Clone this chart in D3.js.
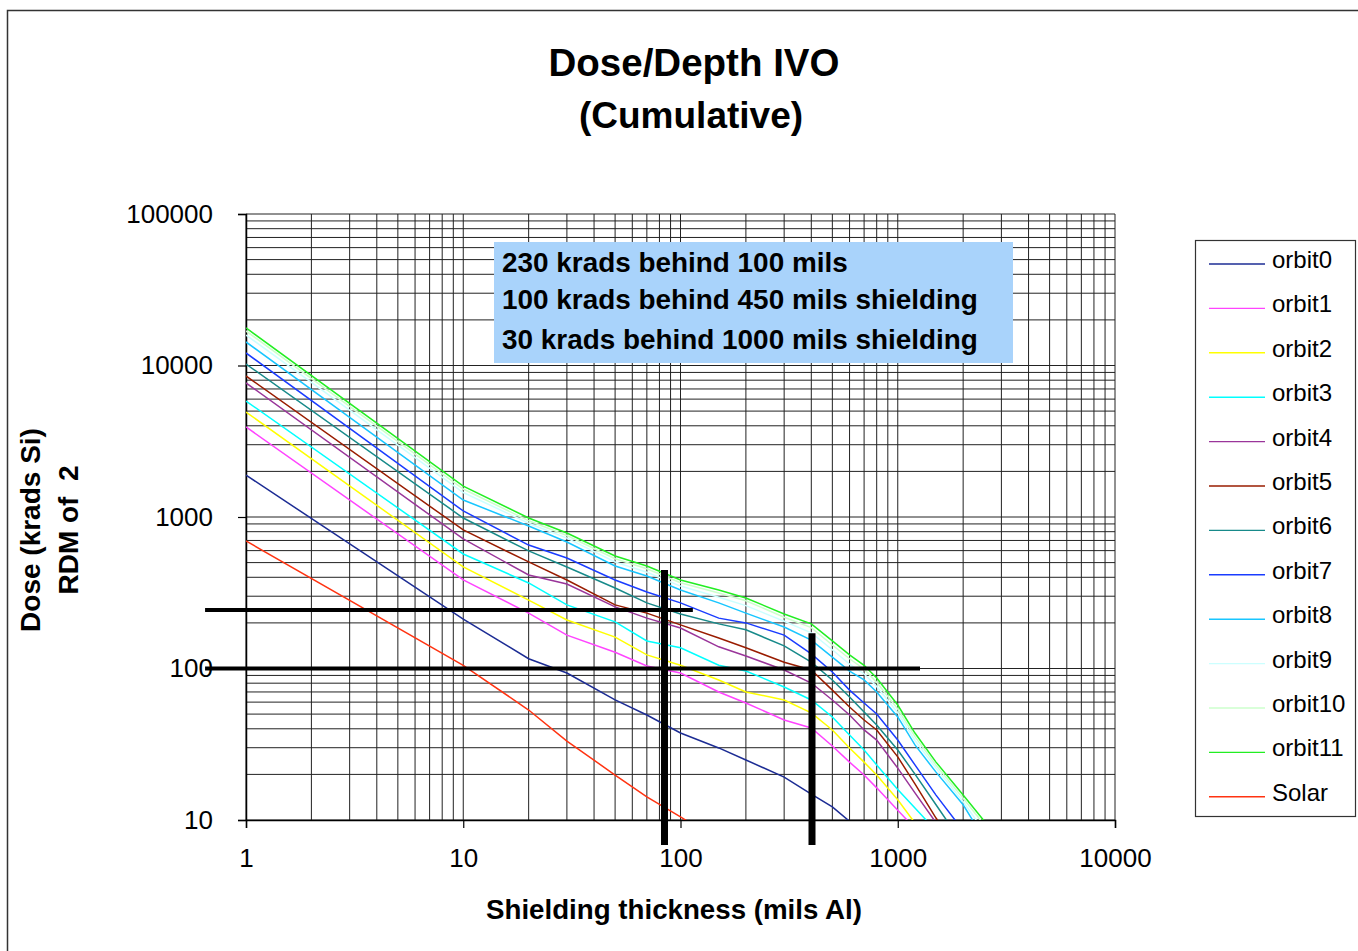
<!DOCTYPE html>
<html>
<head>
<meta charset="utf-8">
<script src="https://cdn.jsdelivr.net/npm/d3@7"></script>
<style>
  body { margin: 0; background: #fff; }
  svg { font-family: "Liberation Sans", Arial, sans-serif; }
</style>
</head>
<body>
<div id="chart"></div>
<script>
var svgWidth = 1358;
var svgHeight = 951;

// plot area in page pixels
var plot = { left: 246, right: 1115, top: 214, bottom: 820 };

// shielding thickness samples (mils Al)
var thickness = [1, 10, 20, 30, 50, 70, 100, 150, 200, 300, 400, 500, 600, 700, 800, 1000, 1200, 1500, 2000, 2500];

// dose (krads Si) per series at the thickness samples
var orbit0  = [1890, 212, 116, 93.4, 62, 49.3, 37.5, 29.9, 24.9, 19.2, 14.8, 12.2, 9.8, 8.0];
var orbit1  = [3930, 384, 232, 166, 128, 104, 93.4, 70, 59.2, 45.7, 40.5, 30.8, 24.1, 19.8, 16.3, 11.6, 8.8];
var orbit2  = [4930, 468, 283, 209, 161, 123, 105, 84, 70, 62, 50.9, 39.3, 29.9, 24.1, 19.8, 13.6, 9.55, 6.2];
var orbit3  = [5830, 570, 367, 263, 203, 152, 137, 105, 96.3, 75.5, 62, 47.9, 36.4, 29, 23.1, 15.9, 12.0, 8.5];
var orbit4  = [7670, 716, 414, 361, 255, 215, 185, 139, 121, 97.7, 80.2, 62, 49.3, 39.3, 33.7, 22, 15.1, 9.6, 5.5];
var orbit5  = [8530, 821, 505, 384, 263, 232, 194, 159, 137, 110, 97.7, 72, 55.7, 45.7, 39.3, 26.1, 17.3, 10.3, 5.8];
var orbit6  = [10230, 985, 597, 468, 340, 271, 229, 197, 180, 141, 110, 84, 64.9, 51.6, 42.4, 29, 20.1, 12.6, 6.9];
var orbit7  = [12100, 1096, 653, 536, 384, 320, 271, 215, 200, 166, 125, 94.8, 72, 59.2, 50.1, 33.7, 23.1, 14.6, 8.5];
var orbit8  = [14300, 1295, 872, 684, 475, 408, 330, 271, 232, 188, 154, 119, 96, 84, 70, 47.9, 31.3, 20.7, 12.6, 7.5];
var orbit9  = [15900, 1450, 910, 725, 505, 432, 350, 295, 260, 205, 172, 133, 107, 92, 76, 51, 33.5, 22, 13.2, 8.4];
var orbit10 = [16900, 1530, 945, 755, 530, 455, 368, 315, 280, 218, 186, 143, 116, 99, 81, 54, 35.5, 23, 13.9, 9.3];
var orbit11 = [17700, 1600, 985, 784, 553, 475, 384, 330, 292, 229, 197, 152, 123, 105, 86.5, 57.4, 37.5, 24.1, 14.6, 9.85];
var solar   = [695, 105, 53.2, 33.2, 19.8, 14.2, 10.5, 7.2];

var seriesNames = ["orbit0", "orbit1", "orbit2", "orbit3", "orbit4", "orbit5", "orbit6",
  "orbit7", "orbit8", "orbit9", "orbit10", "orbit11", "Solar"];
var seriesValues = [orbit0, orbit1, orbit2, orbit3, orbit4, orbit5, orbit6,
  orbit7, orbit8, orbit9, orbit10, orbit11, solar];
var seriesColors = ["#1c2c94", "#ff44ff", "#ffff00", "#00ffff", "#9a359a", "#991c00", "#178a8a",
  "#1a3cff", "#18c6ff", "#ccffff", "#ccffcc", "#22ee22", "#ff3311"];

// axis ticks
var xTicks = [1, 10, 100, 1000, 10000];
var yTicks = [10, 100, 1000, 10000, 100000];

// reference marks: horizontal [from, to, dose], vertical [thickness, from, to]
var hMarks = [[0.648, 114, 243], [0.648, 1266, 100]];
var vMarks = [[84.4, 447, 6.84], [403, 171, 6.84]];

var annotation = ["230 krads behind 100 mils",
  "100 krads behind 450 mils shielding",
  "30 krads behind 1000 mils shielding"];

var svg = d3.select("#chart")
  .append("svg")
  .attr("width", svgWidth)
  .attr("height", svgHeight);

// outer frame
svg.append("rect")
  .attr("x", 7.5).attr("y", 10.5)
  .attr("width", 1400).attr("height", 1000)
  .attr("fill", "#fff")
  .attr("stroke", "#333")
  .attr("stroke-width", 1.5);

var x = d3.scaleLog().domain([1, 10000]).range([plot.left, plot.right]);
var y = d3.scaleLog().domain([10, 100000]).range([plot.bottom, plot.top]);

// gridlines
var grid = svg.append("g").attr("stroke", "#222").attr("stroke-width", 1);
grid.selectAll(".vg")
  .data(x.ticks())
  .enter()
  .append("line")
  .attr("x1", d => x(d)).attr("x2", d => x(d))
  .attr("y1", plot.top).attr("y2", plot.bottom);
grid.selectAll(".hg")
  .data(y.ticks())
  .enter()
  .append("line")
  .attr("x1", plot.left).attr("x2", plot.right)
  .attr("y1", d => y(d)).attr("y2", d => y(d));

// axes
var leftAxis = d3.axisLeft(y).tickValues(yTicks).tickSize(8).tickPadding(25)
  .tickFormat(d3.format("d"));
var bottomAxis = d3.axisBottom(x).tickValues(xTicks).tickSize(8).tickPadding(21)
  .tickFormat(d3.format("d"));

var yAxis = svg.append("g")
  .attr("transform", `translate(${plot.left}, 0)`)
  .call(leftAxis);
var xAxis = svg.append("g")
  .attr("transform", `translate(0, ${plot.bottom})`)
  .call(bottomAxis);

[xAxis, yAxis].forEach(function(ax){
  ax.select(".domain").attr("stroke", "#000").attr("stroke-width", 1.5);
  ax.selectAll(".tick line").attr("stroke", "#000").attr("stroke-width", 1.2);
  ax.selectAll("text")
    .attr("font-size", 26)
    .attr("font-family", "'Liberation Sans', Arial, sans-serif")
    .attr("fill", "#000");
});

// clip for the curves
svg.append("clipPath").attr("id", "plotClip")
  .append("rect")
  .attr("x", plot.left).attr("y", plot.top)
  .attr("width", plot.right - plot.left)
  .attr("height", plot.bottom - plot.top);

var line = d3.line()
  .defined(d => d[1] != null)
  .x(d => x(d[0]))
  .y(d => y(d[1]));

var curves = svg.append("g").attr("clip-path", "url(#plotClip)");
seriesValues.forEach(function(vals, i){
  var pts = vals.map((v, j) => [thickness[j], v]);
  curves.append("path")
    .datum(pts)
    .attr("fill", "none")
    .attr("stroke", seriesColors[i])
    .attr("stroke-width", 1.5)
    .attr("d", line);
});

// thick reference lines
svg.selectAll(".hmark")
  .data(hMarks)
  .enter()
  .append("line")
  .attr("x1", d => x(d[0])).attr("x2", d => x(d[1]))
  .attr("y1", d => y(d[2])).attr("y2", d => y(d[2]))
  .attr("stroke", "#000")
  .attr("stroke-width", 4);
svg.selectAll(".vmark")
  .data(vMarks)
  .enter()
  .append("line")
  .attr("x1", d => x(d[0])).attr("x2", d => x(d[0]))
  .attr("y1", d => y(d[1])).attr("y2", d => y(d[2]))
  .attr("stroke", "#000")
  .attr("stroke-width", 7);

// annotation box
svg.append("rect")
  .attr("x", 494).attr("y", 242)
  .attr("width", 519).attr("height", 121)
  .attr("fill", "#a9d3fb");
svg.selectAll(".ann")
  .data(annotation)
  .enter()
  .append("text")
  .attr("x", 502)
  .attr("y", (d, i) => [272, 309, 349][i])
  .attr("font-size", 27.9)
  .attr("font-weight", "bold")
  .text(d => d);

// titles
svg.append("text")
  .attr("x", 694).attr("y", 76)
  .attr("text-anchor", "middle")
  .attr("font-size", 38.5).attr("font-weight", "bold")
  .text("Dose/Depth IVO");
svg.append("text")
  .attr("x", 691).attr("y", 128)
  .attr("text-anchor", "middle")
  .attr("font-size", 37).attr("font-weight", "bold")
  .text("(Cumulative)");

svg.append("text")
  .attr("x", 674).attr("y", 919)
  .attr("text-anchor", "middle")
  .attr("font-size", 27.7).attr("font-weight", "bold")
  .text("Shielding thickness (mils Al)");

var yTitle = svg.append("g").attr("transform", "translate(0, 530) rotate(-90)");
yTitle.append("text")
  .attr("x", 0).attr("y", 40)
  .attr("text-anchor", "middle")
  .attr("font-size", 28).attr("font-weight", "bold")
  .text("Dose (krads Si)");
yTitle.append("text")
  .attr("x", 0).attr("y", 78)
  .attr("text-anchor", "middle")
  .attr("font-size", 28).attr("font-weight", "bold")
  .attr("xml:space", "preserve")
  .style("white-space", "pre")
  .text("RDM of  2");

// legend
var legend = svg.append("g");
legend.append("rect")
  .attr("x", 1195.5).attr("y", 240.5)
  .attr("width", 160).attr("height", 576)
  .attr("fill", "#fff")
  .attr("stroke", "#333")
  .attr("stroke-width", 1.2);

var rows = legend.selectAll(".row")
  .data(seriesNames)
  .enter()
  .append("g")
  .attr("transform", (d, i) => `translate(0, ${259 + i * 44.4})`);
rows.append("line")
  .attr("x1", 1209).attr("x2", 1265)
  .attr("y1", 5).attr("y2", 5)
  .attr("stroke", (d, i) => seriesColors[i])
  .attr("stroke-width", 1.4);
rows.append("text")
  .attr("x", 1272).attr("y", 9)
  .attr("font-size", 24)
  .text(d => d);
</script>
</body>
</html>
